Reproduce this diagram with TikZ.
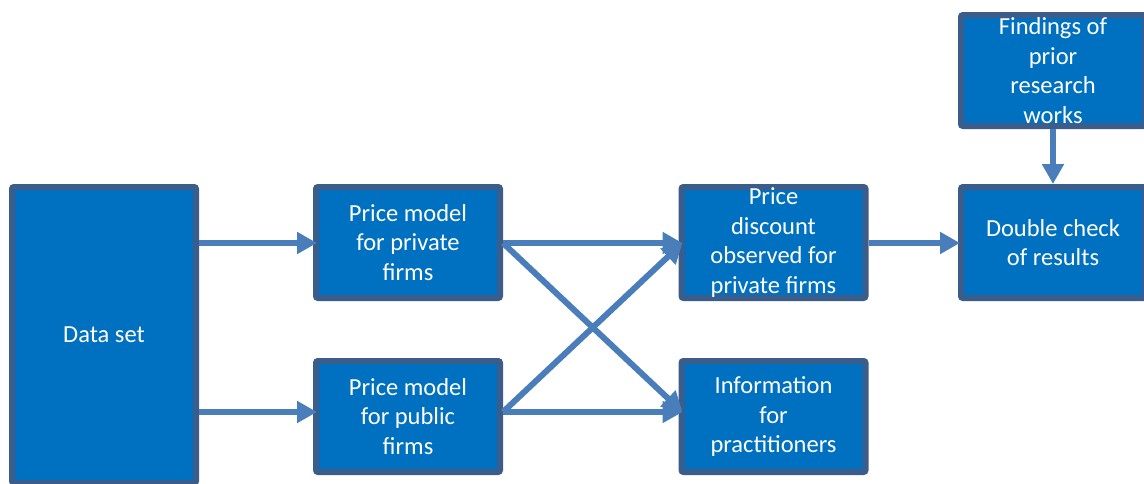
\documentclass[tikz,border=0pt]{standalone}
\usepackage{fontspec}
\setmainfont{Carlito}
\usetikzlibrary{arrows.meta}
\definecolor{boxfill}{HTML}{0070C0}
\definecolor{boxline}{HTML}{3B5D8C}
\definecolor{arrowblue}{HTML}{4A7EBB}
\begin{document}
\begin{tikzpicture}[x=1pt,y=-1pt,
  block/.style={draw=boxline, fill=boxfill, line width=6pt, rounded corners=2pt,
    minimum width=184pt, minimum height=111pt, inner sep=0pt,
    text=white, align=center,
    font=\fontsize{24.5}{29.5}\selectfont},
  flow/.style={draw=arrowblue, line width=6pt,
    -{Triangle[length=20pt,width=21pt]}}]
\useasboundingbox (0,0) rectangle (1144,483);
\clip (0,0) rectangle (1144,483);
% boxes
\node[block, minimum height=296pt] (data) at (104,335) {Data set};
\node[block] (priv) at (408,242.5) {Price model\\for private\\firms};
\node[block] (pub) at (408,416.5) {Price model\\for public\\firms};
\node[block] (disc) at (773.5,242.5) {Price\\discount\\observed for\\private firms};
\node[block] (info) at (773.5,416.5) {Information\\for\\practitioners};
\node[block] (check) at (1053,242.5) {Double check\\of results};
\node[block] (find) at (1053,70.5) {Findings of\\prior\\research\\works};
% connectors
\draw[flow] (data.east |- 0,243) -- ([xshift=4pt]priv.west |- 0,243);
\draw[flow] (data.east |- 0,412) -- ([xshift=4pt]pub.west |- 0,412);
\draw[flow] (priv.east |- 0,243) -- ([xshift=4pt]disc.west |- 0,243);
\draw[flow] (priv.east |- 0,243) -- ([xshift=4pt]info.west |- 0,412);
\draw[flow] (pub.east |- 0,412) -- ([xshift=4pt]disc.west |- 0,243);
\draw[flow] (pub.east |- 0,412) -- ([xshift=4pt]info.west |- 0,412);
\draw[flow] (disc.east |- 0,243) -- ([xshift=2pt]check.west |- 0,243);
\draw[flow] (find.south) -- (check.north);
\end{tikzpicture}
\end{document}
